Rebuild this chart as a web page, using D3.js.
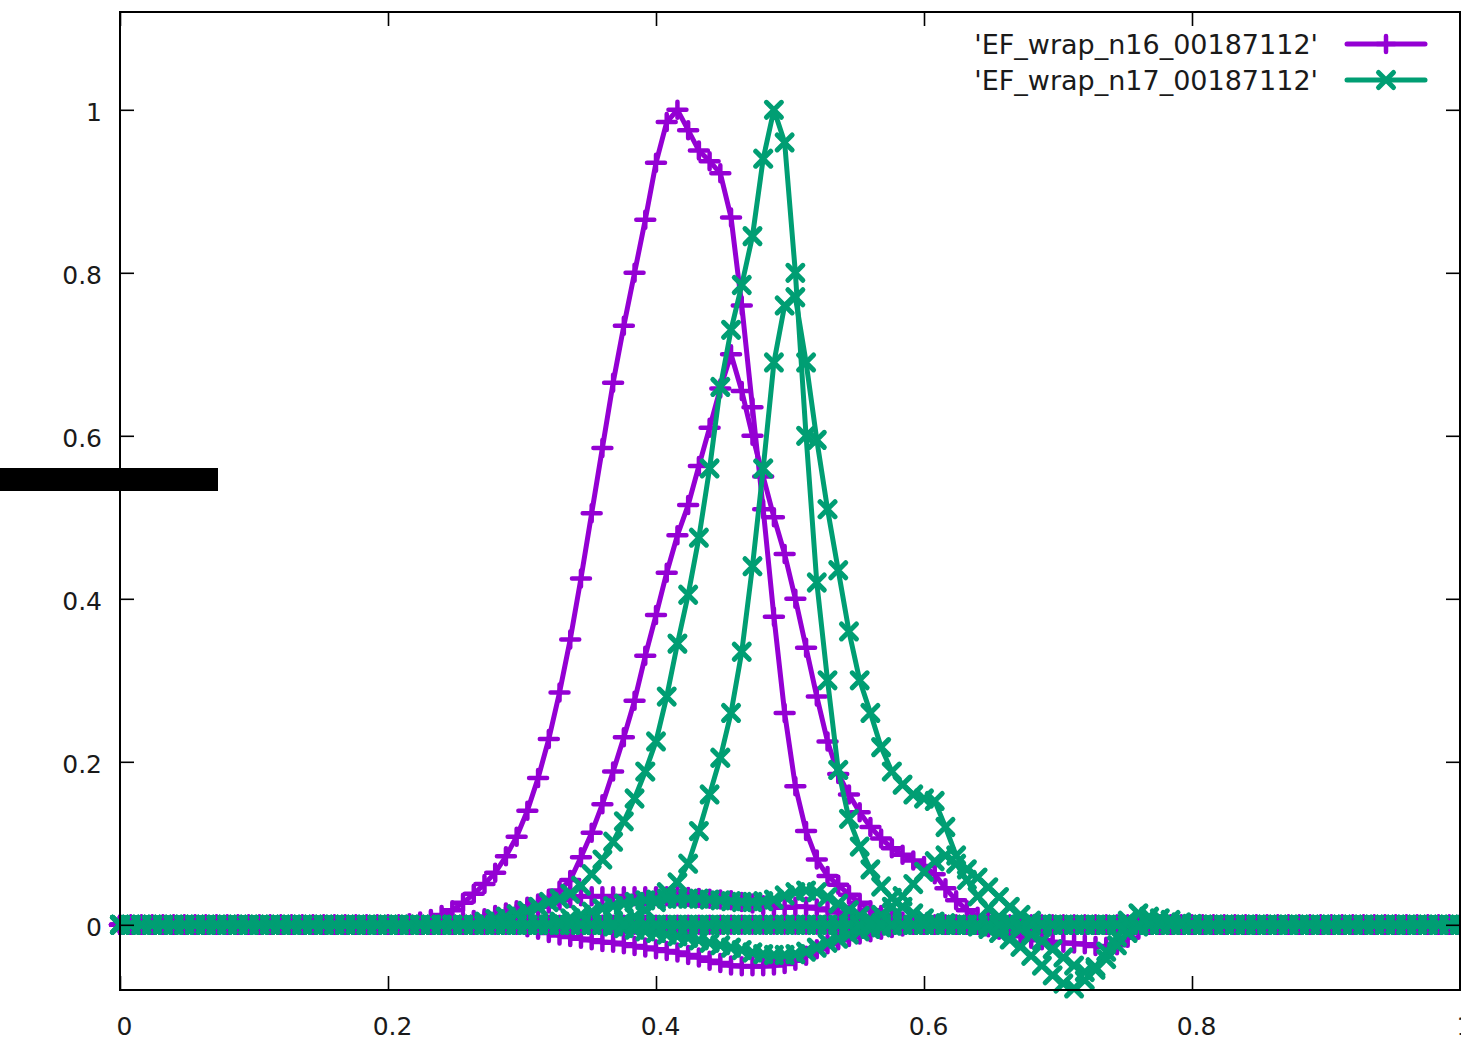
<!DOCTYPE html>
<html>
<head>
<meta charset="utf-8">
<script src="https://cdn.jsdelivr.net/npm/d3@7"></script>
<style>
  html, body { margin: 0; padding: 0; background: #fff; }
  svg { display: block; font-family: "DejaVu Sans", sans-serif; }
</style>
</head>
<body>
<svg id="chart" width="1461" height="1040"></svg>
<script>
// sample positions shared by every curve (step 0.008 from 0 to 1)
const xGrid = [
  0, 0.008, 0.016, 0.024, 0.032, 0.04, 0.048, 0.056, 0.064, 0.072,
  0.08, 0.088, 0.096, 0.104, 0.112, 0.12, 0.128, 0.136, 0.144, 0.152,
  0.16, 0.168, 0.176, 0.184, 0.192, 0.2, 0.208, 0.216, 0.224, 0.232,
  0.24, 0.248, 0.256, 0.264, 0.272, 0.28, 0.288, 0.296, 0.304, 0.312,
  0.32, 0.328, 0.336, 0.344, 0.352, 0.36, 0.368, 0.376, 0.384, 0.392,
  0.4, 0.408, 0.416, 0.424, 0.432, 0.44, 0.448, 0.456, 0.464, 0.472,
  0.48, 0.488, 0.496, 0.504, 0.512, 0.52, 0.528, 0.536, 0.544, 0.552,
  0.56, 0.568, 0.576, 0.584, 0.592, 0.6, 0.608, 0.616, 0.624, 0.632,
  0.64, 0.648, 0.656, 0.664, 0.672, 0.68, 0.688, 0.696, 0.704, 0.712,
  0.72, 0.728, 0.736, 0.744, 0.752, 0.76, 0.768, 0.776, 0.784, 0.792,
  0.8, 0.808, 0.816, 0.824, 0.832, 0.84, 0.848, 0.856, 0.864, 0.872,
  0.88, 0.888, 0.896, 0.904, 0.912, 0.92, 0.928, 0.936, 0.944, 0.952,
  0.96, 0.968, 0.976, 0.984, 0.992, 1.0
];

// ---- EF_wrap_n16_00187112 : one array per block of the data file ----
const n16_block1 = [
  0,0,0,0,0,0,0,0,0,0,
  0,0,0,0,0,0,0,0,0,0,
  0,0,0,0,0,0,0,0.002,0.004,0.007,
  0.012,0.018,0.027,0.038,0.050,0.064,0.084,0.108,0.140,0.180,
  0.228,0.285,0.350,0.425,0.505,0.585,0.665,0.735,0.800,0.865,
  0.935,0.985,1.000,0.975,0.950,0.937,0.922,0.868,0.760,0.635,
  0.510,0.378,0.260,0.170,0.115,0.080,0.060,0.049,0.037,0.027,
  0.018,0.012,0.007,0.004,0.002,0,0,0,0,0,
  0,0,0,0,0,0,0,0,0,0,
  0,0,0,0,0,0,0,0,0,0,
  0,0,0,0,0,0,0,0,0,0,
  0,0,0,0,0,0,0,0,0,0,
  0,0,0,0,0,0
];
const n16_block2 = [
  0,0,0,0,0,0,0,0,0,0,
  0,0,0,0,0,0,0,0,0,0,
  0,0,0,0,0,0,0,0,0,0,
  0.002,0.003,0.004,0.006,0.008,0.012,0.015,0.018,0.022,0.026,
  0.032,0.042,0.055,0.083,0.113,0.148,0.188,0.230,0.275,0.330,
  0.380,0.432,0.478,0.515,0.563,0.610,0.658,0.700,0.655,0.600,
  0.550,0.500,0.455,0.400,0.340,0.280,0.225,0.185,0.160,0.138,
  0.120,0.106,0.094,0.086,0.079,0.072,0.062,0.045,0.030,0.018,
  0.010,0.005,0.002,0,0,0,0,0,0,0,
  0,0,0,0,0,0,0,0,0,0,
  0,0,0,0,0,0,0,0,0,0,
  0,0,0,0,0,0,0,0,0,0,
  0,0,0,0,0,0
];
const n16_block3 = [
  0,0,0,0,0,0,0,0,0,0,
  0,0,0,0,0,0,0,0,0,0,
  0,0,0,0,0,0,0,0,0,0,
  0,0,0,0,0.005,0.008,0.011,0.014,0.018,0.022,
  0.026,0.030,0.033,0.035,0.035,0.035,0.035,0.035,0.035,0.035,
  0.035,0.035,0.035,0.034,0.033,0.032,0.031,0.030,0.028,0.026,
  0.024,0.022,0.021,0.022,0.022,0.020,0.018,0.015,0.012,0.009,
  0.006,0.004,0.002,0,0,0,0,0,0,0,
  0,0,0,0,0,0,0,0,0,0,
  0,0,0,0,0,0,0,0,0,0,
  0,0,0,0,0,0,0,0,0,0,
  0,0,0,0,0,0,0,0,0,0,
  0,0,0,0,0,0
];
const n16_block4 = [
  0,0,0,0,0,0,0,0,0,0,
  0,0,0,0,0,0,0,0,0,0,
  0,0,0,0,0,0,0,0,0,0,
  0,0,0,0,0,0,0,0,-0.003,-0.006,
  -0.010,-0.013,-0.015,-0.017,-0.019,-0.021,-0.022,-0.024,-0.026,-0.028,
  -0.030,-0.032,-0.034,-0.037,-0.040,-0.044,-0.047,-0.050,-0.051,-0.051,
  -0.051,-0.050,-0.048,-0.044,-0.038,-0.030,-0.024,-0.019,-0.015,-0.012,
  -0.009,-0.006,-0.004,-0.002,0,0,0,0,0,0,
  0,0,0,0,0,0,0,0,0,0,
  0,0,0,0,0,0,0,0,0,0,
  0,0,0,0,0,0,0,0,0,0,
  0,0,0,0,0,0,0,0,0,0,
  0,0,0,0,0,0
];
const n16_block5 = [
  0,0,0,0,0,0,0,0,0,0,
  0,0,0,0,0,0,0,0,0,0,
  0,0,0,0,0,0,0,0,0,0,
  0,0,0,0,0,0,0,0,0,0,
  0,0,0,0,0,0,0,0,0,0,
  0,0,0,0,0,0,0,0,0,0,
  0,0,0,0,0,0,0,0,0,0,
  0,0,0,0,0,0,0,0,0,0,
  0,-0.003,-0.006,-0.010,-0.014,-0.017,-0.019,-0.021,-0.022,-0.023,
  -0.024,-0.026,-0.027,-0.025,-0.016,-0.006,0,0,0,0,
  0,0,0,0,0,0,0,0,0,0,
  0,0,0,0,0,0,0,0,0,0,
  0,0,0,0,0,0
];

// ---- EF_wrap_n17_00187112 ----
const n17_block1 = [
  0,0,0,0,0,0,0,0,0,0,
  0,0,0,0,0,0,0,0,0,0,
  0,0,0,0,0,0,0,0,0,0,
  0,0,0,0,0.004,0.007,0.010,0.013,0.017,0.022,
  0.028,0.032,0.038,0.048,0.062,0.080,0.102,0.127,0.155,0.188,
  0.225,0.280,0.345,0.405,0.475,0.560,0.660,0.730,0.785,0.845,
  0.940,1.000,0.960,0.800,0.600,0.420,0.300,0.190,0.130,0.096,
  0.068,0.047,0.033,0.022,0.014,0.008,0.004,0.002,0,0,
  0,0,0,0,0,0,0,0,0,0,
  0,0,0,0,0,0,0,0,0,0,
  0,0,0,0,0,0,0,0,0,0,
  0,0,0,0,0,0,0,0,0,0,
  0,0,0,0,0,0
];
const n17_block2 = [
  0,0,0,0,0,0,0,0,0,0,
  0,0,0,0,0,0,0,0,0,0,
  0,0,0,0,0,0,0,0,0,0,
  0,0,0,0,0,0,0,0,0,0,
  0,0,0,0,0,0,0.002,0.005,0.010,0.018,
  0.028,0.040,0.052,0.075,0.115,0.160,0.205,0.260,0.335,0.440,
  0.560,0.690,0.760,0.770,0.690,0.595,0.510,0.435,0.360,0.300,
  0.260,0.218,0.188,0.172,0.160,0.155,0.152,0.120,0.085,0.068,
  0.058,0.046,0.034,0.022,0.012,0.005,0.001,0,0,0,
  0,0,0,0,0,0,0,0,0,0,
  0,0,0,0,0,0,0,0,0,0,
  0,0,0,0,0,0,0,0,0,0,
  0,0,0,0,0,0
];
const n17_block3 = [
  0,0,0,0,0,0,0,0,0,0,
  0,0,0,0,0,0,0,0,0,0,
  0,0,0,0,0,0,0,0,0,0,
  0,0,0,0,0,0,0,0,0,0,
  0,0.004,0.008,0.012,0.016,0.020,0.023,0.026,0.028,0.030,
  0.031,0.032,0.032,0.032,0.032,0.031,0.030,0.029,0.028,0.028,
  0.029,0.031,0.036,0.040,0.042,0.040,0.034,0.026,0.018,0.011,
  0.006,0.002,0,0,0,0,0,0,0,0,
  0,0,0,0,0,0,0,0,0,0,
  0,0,0,0,0,0,0,0,0,0,
  0,0,0,0,0,0,0,0,0,0,
  0,0,0,0,0,0,0,0,0,0,
  0,0,0,0,0,0
];
const n17_block4 = [
  0,0,0,0,0,0,0,0,0,0,
  0,0,0,0,0,0,0,0,0,0,
  0,0,0,0,0,0,0,0,0,0,
  0,0,0,0,0,0,0,0,0,0,
  0,0,0,0,0,0,-0.002,-0.004,-0.006,-0.008,
  -0.010,-0.012,-0.014,-0.016,-0.019,-0.022,-0.025,-0.028,-0.031,-0.034,
  -0.036,-0.037,-0.037,-0.036,-0.033,-0.028,-0.022,-0.017,-0.012,-0.008,
  -0.005,-0.003,-0.001,0,0,0,0,0,0,0,
  0,0,0,0,0,0,0,0,0,0,
  0,0,0,0,0,0,0,0,0,0,
  0,0,0,0,0,0,0,0,0,0,
  0,0,0,0,0,0,0,0,0,0,
  0,0,0,0,0,0
];
const n17_block5 = [
  0,0,0,0,0,0,0,0,0,0,
  0,0,0,0,0,0,0,0,0,0,
  0,0,0,0,0,0,0,0,0,0,
  0,0,0,0,0,0,0,0,0,0,
  0,0,0,0,0,0,0,0,0,0,
  0,0,0,0,0,0,0,0,0,0,
  0,0,0,0,0,0,0,0,0,0,
  0.005,0.012,0.022,0.035,0.050,0.065,0.078,0.085,0.075,0.055,
  0.035,0.020,0.010,0.004,0,0,0,0,0,0,
  0,0,0,0,0,0,0,0,0,0,
  0,0,0,0,0,0,0,0,0,0,
  0,0,0,0,0,0,0,0,0,0,
  0,0,0,0,0,0
];
const n17_block6 = [
  0,0,0,0,0,0,0,0,0,0,
  0,0,0,0,0,0,0,0,0,0,
  0,0,0,0,0,0,0,0,0,0,
  0,0,0,0,0,0,0,0,0,0,
  0,0,0,0,0,0,0,0,0,0,
  0,0,0,0,0,0,0,0,0,0,
  0,0,0,0,0,0,0,0,0,0,
  0,0,0,0,0,0,0,0,0,0,
  -0.002,-0.005,-0.010,-0.018,-0.027,-0.038,-0.050,-0.062,-0.072,-0.078,
  -0.068,-0.052,-0.033,-0.015,0.005,0.014,0.010,0.008,0.006,0.003,
  0.001,0,0,0,0,0,0,0,0,0,
  0,0,0,0,0,0,0,0,0,0,
  0,0,0,0,0,0
];
const n17_block7 = [
  0,0,0,0,0,0,0,0,0,0,
  0,0,0,0,0,0,0,0,0,0,
  0,0,0,0,0,0,0,0,0,0,
  0,0,0,0,0,0,0,0,0,0,
  0,0,0,0,0,0,0,0,0,0,
  0,0,0,0,0,0,0,0,0,0,
  0,0,0,0,0,0,0,0,0,0,
  0,0,0,0,0,0,0,0,0,0,
  0,0,0,0,-0.005,-0.012,-0.020,-0.030,-0.040,-0.050,
  -0.058,-0.055,-0.042,-0.025,-0.010,-0.002,0,0,0,0,
  0,0,0,0,0,0,0,0,0,0,
  0,0,0,0,0,0,0,0,0,0,
  0,0,0,0,0,0
];

const xTicks = [0, 0.2, 0.4, 0.6, 0.8, 1];
const xTickLabels = ["0", "0.2", "0.4", "0.6", "0.8", "1"];
const yTicks = [0, 0.2, 0.4, 0.6, 0.8, 1];
const yTickLabels = ["0", "0.2", "0.4", "0.6", "0.8", "1"];

const seriesNames = ["'EF_wrap_n16_00187112'", "'EF_wrap_n17_00187112'"];
const seriesColors = ["#9400d3", "#009e73"];
const seriesMarkers = ["plus", "cross"];
const seriesBlocks = [
  [n16_block1, n16_block2, n16_block3, n16_block4, n16_block5],
  [n17_block1, n17_block2, n17_block3, n17_block4, n17_block5, n17_block6, n17_block7]
];

// ---- layout ----
const W = 1461, H = 1040;
const plot = { left: 120, right: 1460, top: 12, bottom: 990 };

const x = d3.scaleLinear().domain([0, 1]).range([plot.left, plot.right]);
const y = d3.scaleLinear().domain([-0.08, 1.12]).range([plot.bottom, plot.top]);

const svg = d3.select("#chart");
svg.append("rect").attr("width", W).attr("height", H).attr("fill", "#fff");

const markerPath = {
  plus: "M-9,0H9M0,-8V8",
  cross: "M-7.5,-7.5L7.5,7.5M-7.5,7.5L7.5,-7.5"
};
const markerWidth = [4.5, 5];

const line = d3.line().x(d => x(d[0])).y(d => y(d[1]));

// ---- curves: each block is a polyline with a marker at every sample ----
seriesBlocks.forEach((blocks, si) => {
  const g = svg.append("g").attr("class", "series-" + si);
  blocks.forEach(vals => {
    const pts = xGrid.map((xv, i) => [xv, vals[i]]);
    const bg = g.append("g");
    bg.append("path")
      .attr("d", line(pts))
      .attr("fill", "none")
      .attr("stroke", seriesColors[si])
      .attr("stroke-width", 5)
      .attr("stroke-linejoin", "round")
      .attr("stroke-linecap", "round");
    bg.selectAll("path.pt")
      .data(pts)
      .join("path")
      .attr("class", "pt")
      .attr("transform", d => `translate(${x(d[0])},${y(d[1])})`)
      .attr("d", markerPath[seriesMarkers[si]])
      .attr("fill", "none")
      .attr("stroke", seriesColors[si])
      .attr("stroke-width", markerWidth[si])
      .attr("stroke-linecap", "round");
  });
});

// ---- frame and axes (ticks point inward on all four sides) ----
const fmtX = d => xTickLabels[xTicks.indexOf(d)];
const fmtY = d => yTickLabels[yTicks.indexOf(d)];

function styleAxis(sel) {
  sel.select(".domain").remove();
  sel.selectAll(".tick line").attr("stroke", "#000").attr("stroke-width", 1.6);
  sel.selectAll(".tick text")
    .attr("fill", "#1a1a1a")
    .style("font-family", "'DejaVu Sans', sans-serif")
    .style("font-size", "25px");
}

svg.append("g")
  .attr("transform", `translate(0,${plot.bottom})`)
  .call(d3.axisBottom(x).tickValues(xTicks).tickFormat(fmtX).tickSizeInner(-14).tickSizeOuter(0).tickPadding(27))
  .call(styleAxis)
  .selectAll(".tick text").attr("dx", 4);

svg.append("g")
  .attr("transform", `translate(0,${plot.top})`)
  .call(d3.axisTop(x).tickValues(xTicks).tickFormat("").tickSizeInner(-14).tickSizeOuter(0))
  .call(styleAxis);

svg.append("g")
  .attr("transform", `translate(${plot.left},0)`)
  .call(d3.axisLeft(y).tickValues(yTicks).tickFormat(fmtY).tickSizeInner(-14).tickSizeOuter(0).tickPadding(18))
  .call(styleAxis)
  .selectAll(".tick text").attr("dy", "0.42em");

svg.append("g")
  .attr("transform", `translate(${plot.right},0)`)
  .call(d3.axisRight(y).tickValues(yTicks).tickFormat("").tickSizeInner(-14).tickSizeOuter(0))
  .call(styleAxis);

svg.append("rect")
  .attr("x", plot.left).attr("y", plot.top)
  .attr("width", plot.right - plot.left).attr("height", plot.bottom - plot.top)
  .attr("fill", "none").attr("stroke", "#000").attr("stroke-width", 2);

// ---- key, top right ----
const key = svg.append("g").attr("class", "key");
seriesNames.forEach((name, si) => {
  const ky = 44 + si * 36;
  key.append("text")
    .attr("x", 1318).attr("y", ky)
    .attr("dy", "0.36em")
    .attr("text-anchor", "end")
    .attr("fill", "#1a1a1a")
    .style("font-size", "27px")
    .text(name);
  key.append("line")
    .attr("x1", 1347).attr("x2", 1425).attr("y1", ky).attr("y2", ky)
    .attr("stroke", seriesColors[si]).attr("stroke-width", 5).attr("stroke-linecap", "round");
  key.append("path")
    .attr("transform", `translate(1386,${ky})`)
    .attr("d", markerPath[seriesMarkers[si]])
    .attr("fill", "none").attr("stroke", seriesColors[si])
    .attr("stroke-width", markerWidth[si]).attr("stroke-linecap", "round");
});

// black bar over the left margin
svg.append("rect")
  .attr("x", 0).attr("y", 468).attr("width", 218).attr("height", 23)
  .attr("fill", "#000");
</script>
</body>
</html>
